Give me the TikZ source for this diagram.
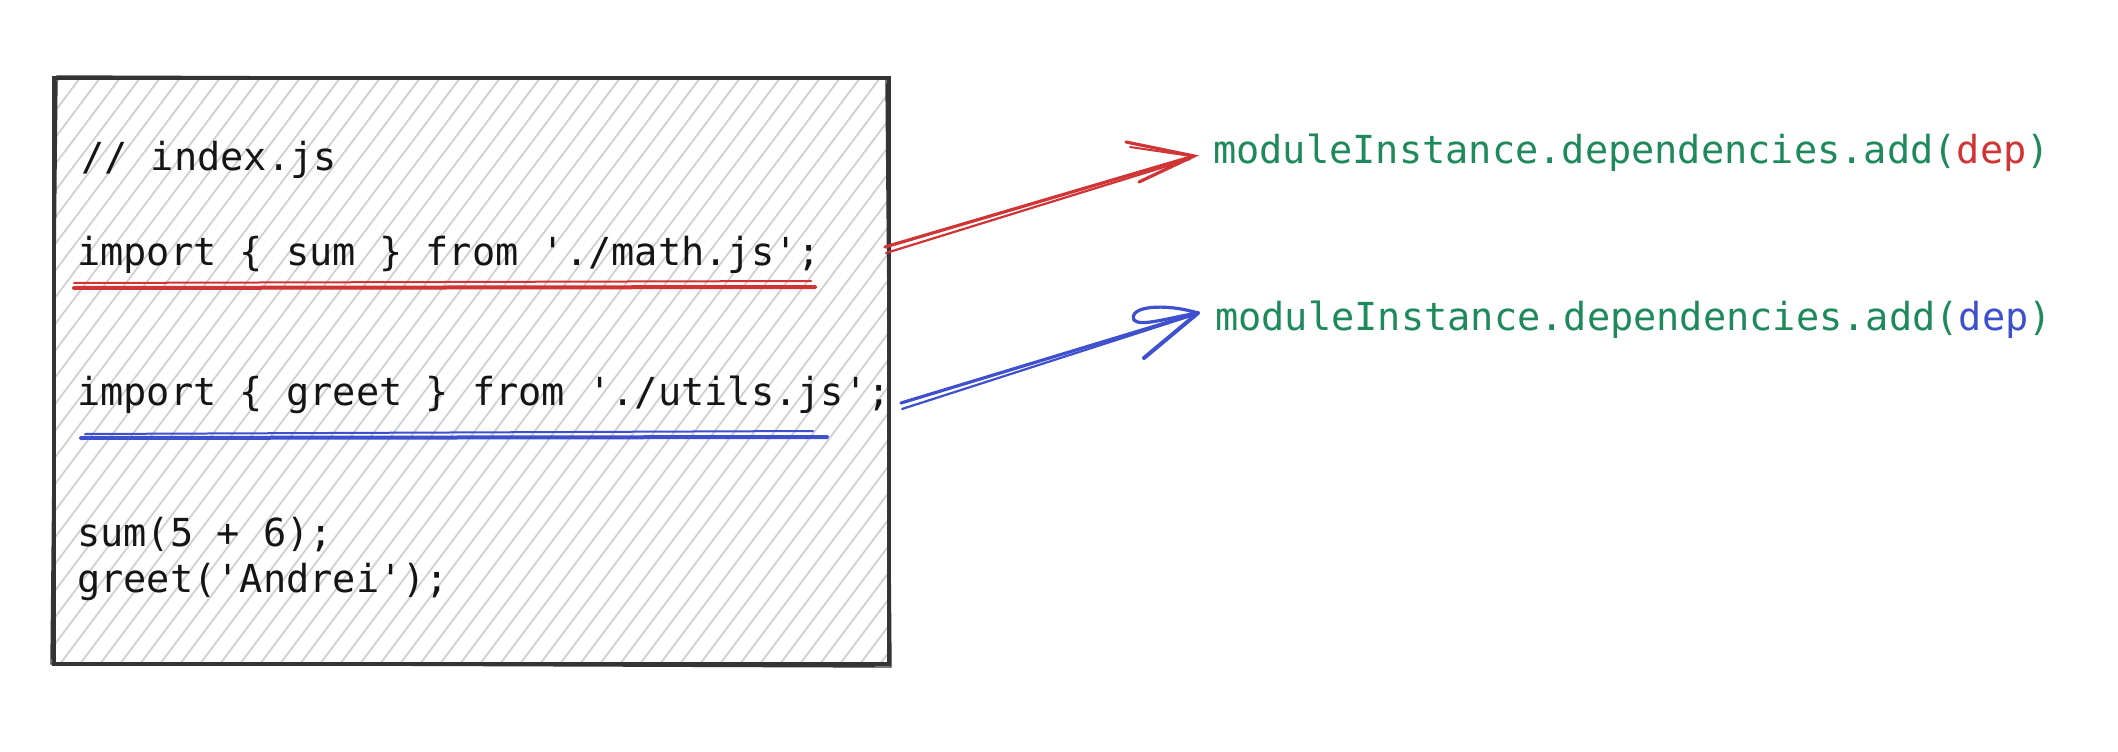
\documentclass[tikz,border=0pt]{standalone}
\usepackage{fontspec}
\newfontfamily\codefont{DejaVu Sans Mono}
\definecolor{codegreen}{HTML}{1E8A5C}
\definecolor{skred}{HTML}{D03434}
\definecolor{skblue}{HTML}{3E50CE}
\definecolor{hatchgray}{HTML}{D0D0D0}
\definecolor{framegray}{HTML}{343434}
\definecolor{inkblack}{HTML}{151515}
\begin{document}
\begin{tikzpicture}[x=1pt,y=-1pt,
  code/.style={font=\codefont\fontsize{38.6}{46}\selectfont, anchor=base west, inner sep=0pt, text=inkblack},
  greencode/.style={code, text=codegreen},
  hatchline/.style={draw=hatchgray, line width=1.8pt},
  framebox/.style={draw=framegray, line width=3.8pt, minimum width=835pt, minimum height=586pt, inner sep=0pt},
  framesketch/.style={draw=framegray, line width=1.4pt},
  redstroke/.style={draw=skred, line width=3.2pt, line cap=round},
  bluestroke/.style={draw=skblue, line width=3.2pt, line cap=round}]
\useasboundingbox (0,0) rectangle (2118,752);
\fill[white] (0,0) rectangle (2118,752);

% hatch fill
\begin{scope}
  \clip (54,78) rectangle (889,664);
  \foreach \i in {-22,...,45}
    \draw[hatchline] (\i*20,664) -- ++(440,-586);
\end{scope}

% frame
\node[framebox] (box) at (471.5,371) {};
\draw[framesketch] (57,76) -- (886,79) -- (891,667) -- (51,664) -- cycle;

% code text
\node[code] (l1) at (81,170) {// index.js};
\node[code] (imp1) at (77,265) {import \{ sum \} from './math.js';};
\node[code] (imp2) at (77,405) {import \{ greet \} from './utils.js';};
\node[code] (l4) at (77,546) {sum(5 + 6);};
\node[code] (l5) at (77,592) {greet('Andrei');};

% right texts
\node[greencode] (dep1) at (1213,163) {moduleInstance.dependencies.add(\textcolor{skred}{dep})};
\node[greencode] (dep2) at (1215,330) {moduleInstance.dependencies.add(\textcolor{skblue}{dep})};

% underlines
\coordinate (ru1) at (74,288);
\coordinate (ru2) at (815,287);
\draw[redstroke, line width=4pt] (ru1) -- (ru2);
\draw[redstroke, line width=2pt] ([yshift=5pt]ru1) -- ([xshift=-4pt,yshift=6pt]ru2);
\coordinate (bu1) at (81,438);
\coordinate (bu2) at (827,437);
\draw[bluestroke, line width=4pt] (bu1) -- (bu2);
\draw[bluestroke, line width=2pt] ([xshift=4pt,yshift=4pt]bu1) -- ([xshift=-14pt,yshift=6pt]bu2);

% red arrow
\coordinate (rs) at (885,247);
\coordinate (rtip) at (1194,156);
\draw[redstroke] (rs) -- (rtip);
\draw[redstroke, line width=2.2pt] ([xshift=1pt,yshift=-6pt]rs) -- ([xshift=-4pt,yshift=-3pt]rtip);
\draw[redstroke] (1126,142) -- (rtip) -- (1139,182);
\draw[redstroke, line width=2pt] (1130,147) -- ([xshift=-3pt]rtip);

% blue arrow
\coordinate (bs) at (901,403);
\coordinate (btip) at (1198,313);
\draw[bluestroke] (bs) -- (btip);
\draw[bluestroke, line width=2.2pt] ([xshift=1pt,yshift=-6pt]bs) -- ([xshift=-4pt,yshift=-2pt]btip);
\draw[bluestroke] (btip) .. controls (1165,303) and (1128,306) .. (1134,320) .. controls (1140,327) and (1168,318) .. (btip);
\draw[bluestroke, line width=4pt] (1144,358) -- (btip);
\end{tikzpicture}
\end{document}
